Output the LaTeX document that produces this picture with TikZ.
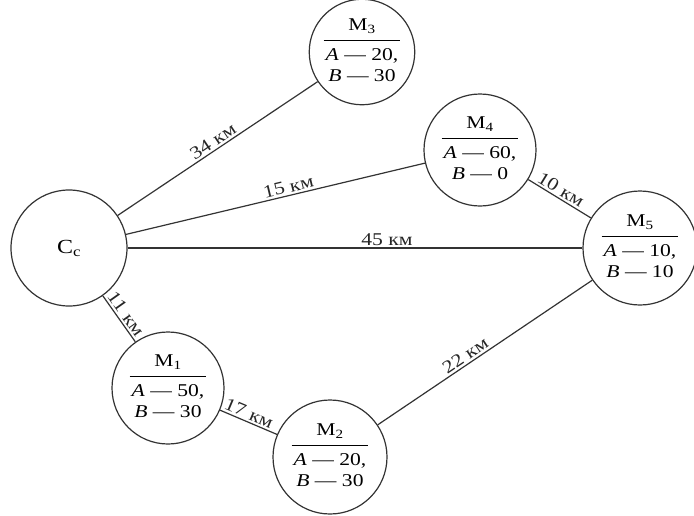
\documentclass[tikz,border=0pt]{standalone}
\usepackage{fontspec}
\setmainfont[FakeStretch=1.2]{Liberation Serif}
\begin{document}
\begin{tikzpicture}[x=1pt,y=-1pt,
  ln/.style={line width=1.2pt,draw=black!80},
  place/.style={circle,ln,inner sep=0pt,minimum size=112pt,font=\fontsize{18}{21}\selectfont},
  lbl/.style={font=\fontsize{18}{20}\selectfont,sloped,above,inner sep=2pt,text=black!85}]
\useasboundingbox (0,0) rectangle (694,515);
\setlength{\arrayrulewidth}{1.1pt}
\newcommand{\mtab}[3]{\begin{tabular}{@{\hspace{2pt}}c@{\hspace{2pt}}}М\textsubscript{#1}\\[3pt]\hline\rule{0pt}{20pt}\textit{A} — #2,\\ \textit{B} — #3\end{tabular}}
\node[place,minimum size=116pt,font=\fontsize{20}{22}\selectfont] (cc) at (69,248) {С\textsubscript{с}};
\node[place,minimum size=100pt] (m3) at (362,52) {\mtab{3}{20}{30}};
\node[place] (m4) at (480,150) {\mtab{4}{60}{0}};
\node[place,minimum size=114pt] (m5) at (640,248) {\mtab{5}{10}{10}};
\node[place] (m1) at (168,388) {\mtab{1}{50}{30}};
\node[place,minimum size=114pt] (m2) at (330,457) {\mtab{2}{20}{30}};
\draw[ln] (cc) -- node[lbl,pos=0.5] {34 км} (m3);
\draw[ln] (cc) -- node[lbl,pos=0.55] {15 км} (m4);
\draw[ln] (cc) -- node[lbl,pos=0.57] {45 км} (m5);
\draw[ln] (cc) -- node[lbl,pos=0.5] {11 км} (m1);
\draw[ln] (m1) -- node[lbl,pos=0.45] {17 км} (m2);
\draw[ln] (m2) -- node[lbl,pos=0.43] {22 км} (m5);
\draw[ln] (m4) -- node[lbl,pos=0.45] {10 км} (m5);
\end{tikzpicture}
\end{document}
